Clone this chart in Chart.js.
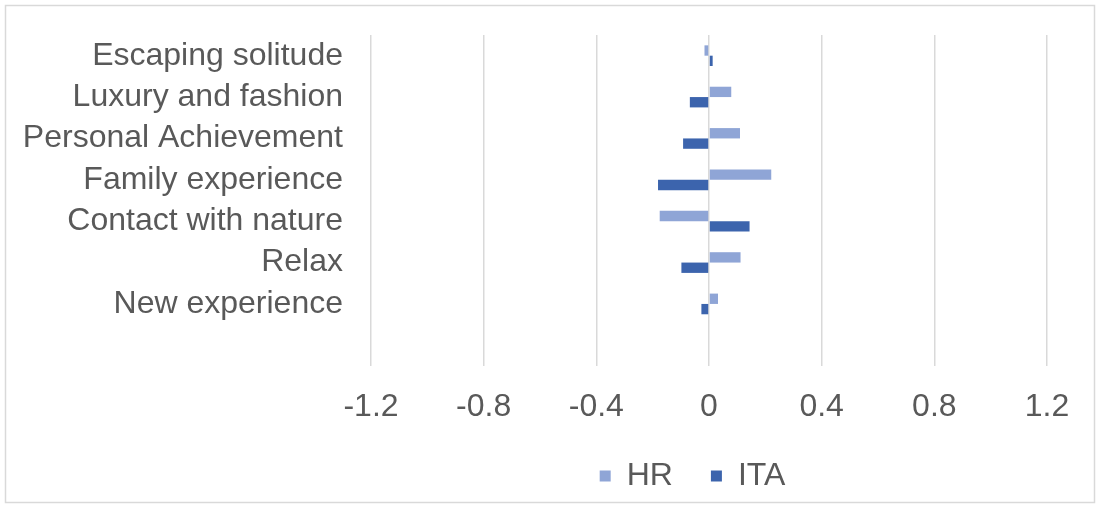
<!DOCTYPE html>
<html>
<head>
<meta charset="utf-8">
<script src="https://cdn.jsdelivr.net/npm/chart.js@4/dist/chart.umd.min.js"></script>
<style>
html,body{margin:0;padding:0;background:#fff;}
#wrap{position:absolute;left:0;top:0;width:1100px;height:506px;}
</style>
</head>
<body>
<div id="wrap"><canvas id="c" width="1100" height="506"></canvas></div>
<script>
const categories = ["Escaping solitude","Luxury and fashion","Personal Achievement","Family experience","Contact with nature","Relax","New experience",""];
const hrValues  = [-0.016, 0.079, 0.110, 0.221, -0.175, 0.112, 0.032, null];
const itaValues = [0.013, -0.068, -0.092, -0.181, 0.144, -0.098, -0.027, null];
const xTicks = [-1.2, -0.8, -0.4, 0, 0.4, 0.8, 1.2];
const seriesNames = ["HR", "ITA"];

const FONT = "'Liberation Sans', Arial, sans-serif";
const TXT = "#595959";
const FS = 32;

const borderPlugin = {
  id: 'outerBorder',
  beforeDraw(chart) {
    const ctx = chart.ctx;
    ctx.save();
    ctx.fillStyle = '#fff';
    ctx.fillRect(0, 0, chart.width, chart.height);
    ctx.strokeStyle = '#D9D9D9';
    ctx.lineWidth = 1.5;
    ctx.strokeRect(5.5, 5.5, 1089, 497);
    ctx.restore();
  }
};

// shift the legend box so it is centred like the reference
const legendShift = {
  id: 'legendShift',
  afterLayout(chart) {
    if (chart.legend) { chart.legend.left = 338; }
  }
};

new Chart(document.getElementById('c'), {
  type: 'bar',
  data: {
    labels: categories,
    datasets: [
      { label: seriesNames[0], data: hrValues, backgroundColor: '#8FA5D6', borderWidth: 0 },
      { label: seriesNames[1], data: itaValues, backgroundColor: '#3C64AD', borderWidth: 0 }
    ]
  },
  options: {
    indexAxis: 'y',
    responsive: false,
    animation: false,
    devicePixelRatio: 1,
    layout: { padding: { top: 35, right: 53, left: 0, bottom: 4 } },
    datasets: { bar: { categoryPercentage: 0.5, barPercentage: 1.0 } },
    scales: {
      x: {
        min: -1.2, max: 1.2,
        afterBuildTicks(scale) { scale.ticks = xTicks.map(v => ({ value: v })); },
        afterFit(scale) { scale.height = 56; scale.paddingLeft = 0; scale.paddingRight = 0; },
        grid: { color: '#D9D9D9', lineWidth: 1.5, drawTicks: false },
        border: { display: false },
        ticks: {
          color: TXT, font: { family: FONT, size: FS }, padding: 22,
          maxRotation: 0, autoSkip: false,
          callback(v) { return String(Math.round(v * 10) / 10); }
        }
      },
      y: {
        afterFit(scale) { scale.width = 371; scale.paddingTop = 0; scale.paddingBottom = 0; },
        grid: { display: false, drawTicks: false },
        border: { display: false },
        ticks: { color: TXT, font: { family: FONT, size: FS }, padding: 28, autoSkip: false }
      }
    },
    plugins: {
      tooltip: { enabled: false },
      legend: {
        position: 'bottom',
        labels: {
          color: TXT, font: { family: FONT, size: FS },
          boxWidth: 11, boxHeight: 11, padding: 38
        }
      }
    }
  },
  plugins: [borderPlugin, legendShift]
});
</script>
</body>
</html>
